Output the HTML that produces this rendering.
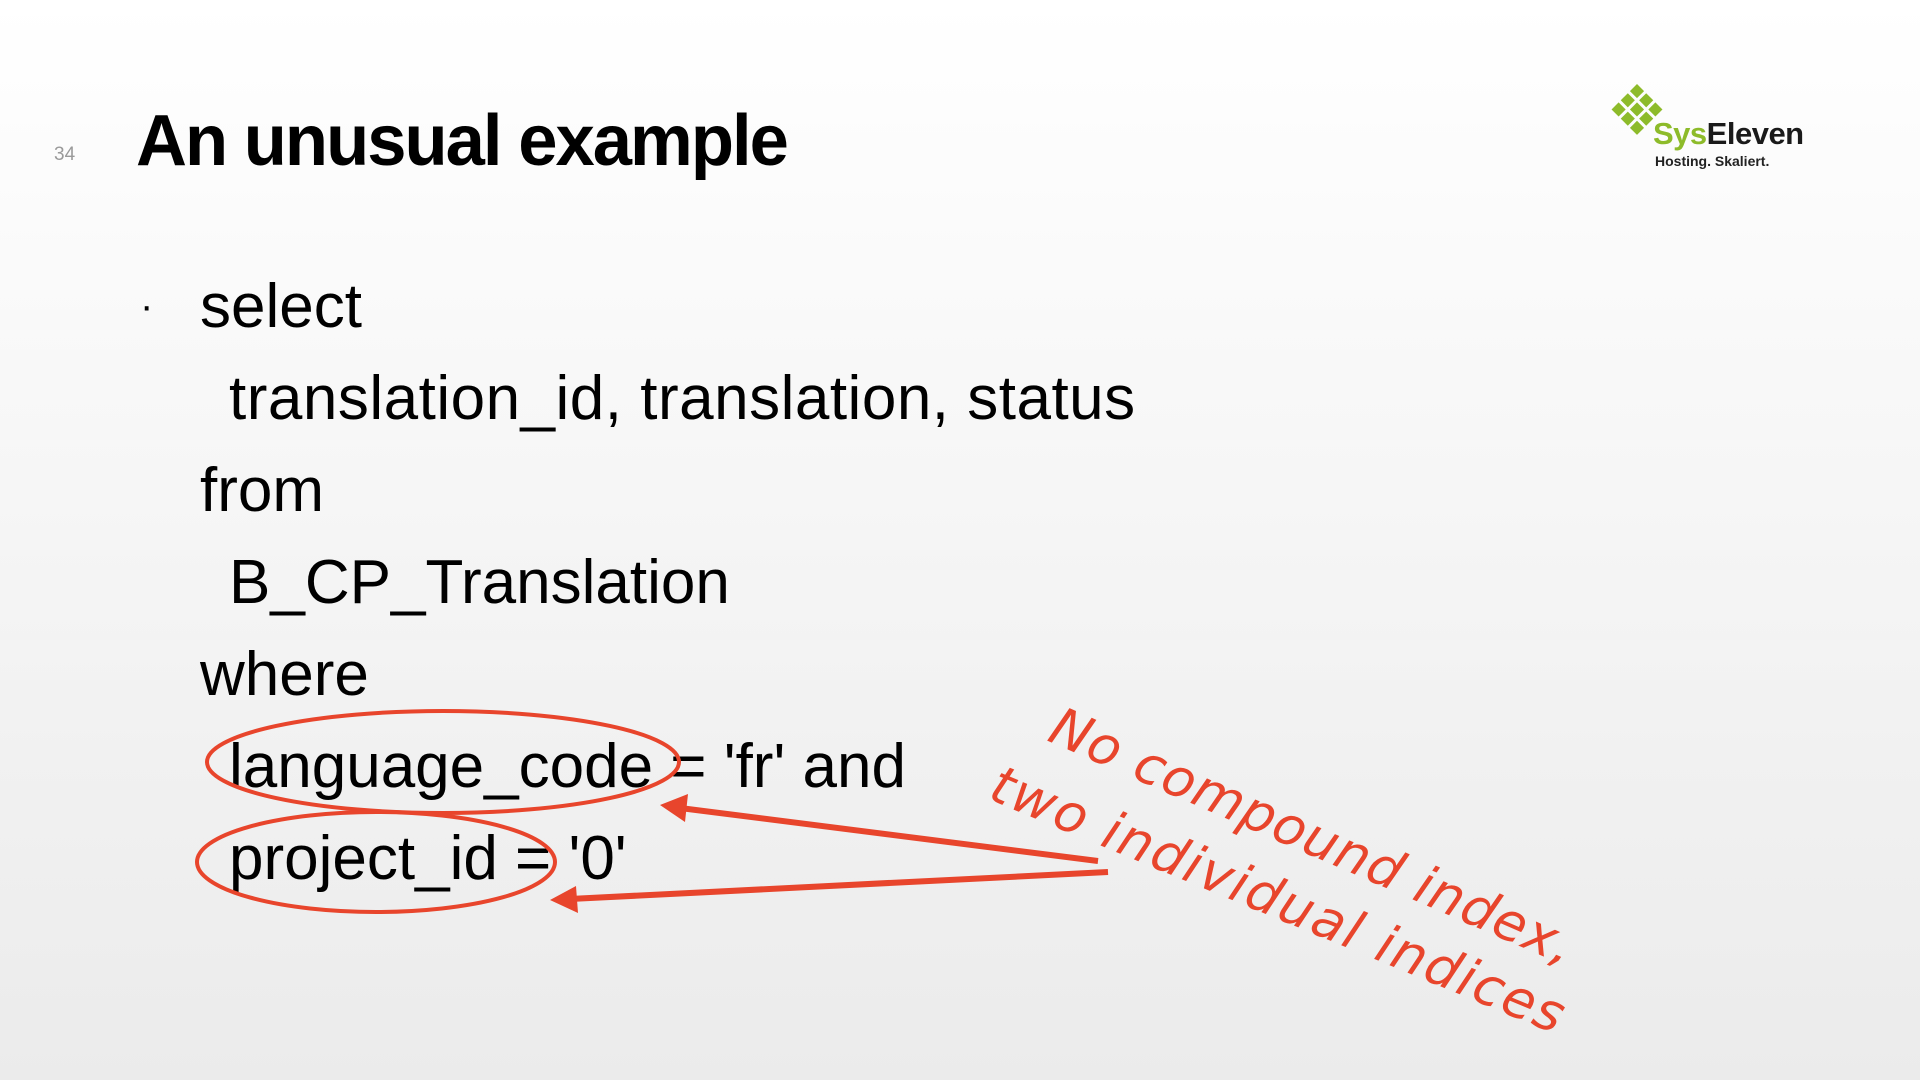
<!DOCTYPE html>
<html><head><meta charset="utf-8"><style>
html,body{margin:0;padding:0}
body{width:1920px;height:1080px;position:relative;overflow:hidden;font-family:"Liberation Sans",sans-serif;
background:linear-gradient(180deg,#ffffff 0%,#f7f7f7 40%,#ebebeb 100%);}
.t{position:absolute;white-space:nowrap;color:#000}
.code{font-size:62px;line-height:1}
</style></head><body>
<div class="t" style="left:54px;top:144px;font-size:19px;color:#9a9a9a">34</div>
<div class="t" style="left:136px;top:100px;font-size:72px;font-weight:bold;letter-spacing:-2px;transform:scaleX(0.98);transform-origin:left">An unusual example</div>

<div class="t" style="left:140px;top:284px;font-size:40px">·</div>
<div class="t code" style="left:200px;top:276px">select</div>
<div class="t code" style="left:229px;top:368px;letter-spacing:0.5px">translation_id, translation, status</div>
<div class="t code" style="left:200px;top:460px">from</div>
<div class="t code" style="left:229px;top:552px">B_CP_Translation</div>
<div class="t code" style="left:200px;top:644px">where</div>
<div class="t code" style="left:229px;top:736px">language_code = 'fr' and</div>
<div class="t code" style="left:229px;top:828px">project_id = '0'</div>

<svg width="1920" height="1080" style="position:absolute;left:0;top:0">
<g fill="none" stroke="#e8452c" stroke-width="4">
<ellipse cx="443" cy="762" rx="236" ry="51"/>
<ellipse cx="376" cy="862" rx="179" ry="50"/>
</g>
<g stroke="#e8452c" stroke-width="6">
<line x1="1098" y1="861" x2="680" y2="808"/>
<line x1="1108" y1="872" x2="570" y2="899"/>
</g>
<g fill="#e8452c">
<polygon points="660,805 688,794 685,822"/>
<polygon points="550,900 576,886 578,913"/>
</g>
<g fill="#8dbb2a" transform="translate(1637,84) rotate(45)">
<rect x="0" y="0" width="10" height="10"/><rect x="13" y="0" width="10" height="10"/><rect x="26" y="0" width="10" height="10"/>
<rect x="0" y="13" width="10" height="10"/><rect x="13" y="13" width="10" height="10"/><rect x="26" y="13" width="10" height="10"/>
<rect x="0" y="26" width="10" height="10"/><rect x="13" y="26" width="10" height="10"/><rect x="26" y="26" width="10" height="10"/>
</g>
</svg>

<div class="t" style="left:1653px;top:116px;font-size:31px;font-weight:bold;letter-spacing:-0.5px"><span style="color:#8dbb2a">Sys</span><span style="color:#1a1a1a">Eleven</span></div>
<div class="t" style="left:1655px;top:153px;font-size:14px;font-weight:bold;color:#222">Hosting. Skaliert.</div>

<div class="t" style="left:1065px;top:696px;font-size:53px;font-style:italic;color:#e8452c;font-family:'DejaVu Sans',sans-serif;transform:rotate(23.5deg);transform-origin:0 0;letter-spacing:1px">No compound index,</div>
<div class="t" style="left:1005px;top:754px;font-size:53px;font-style:italic;color:#e8452c;font-family:'DejaVu Sans',sans-serif;transform:rotate(22.5deg);transform-origin:0 0;letter-spacing:2px">two individual indices</div>
</body></html>
